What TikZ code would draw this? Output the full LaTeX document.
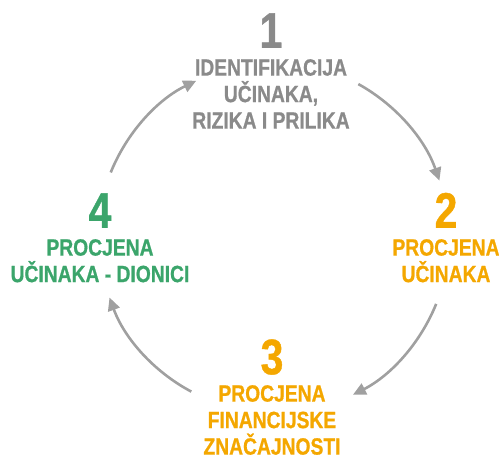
\documentclass[tikz,border=0pt]{standalone}
\usepackage{fontspec}
\newfontfamily\stepfont{Liberation Sans}[UprightFont=* Bold, FakeStretch=0.82, FakeBold=0.8]
\usetikzlibrary{positioning,arrows.meta}

\definecolor{stepgray}{RGB}{138,138,138}
\definecolor{steporange}{RGB}{244,167,0}
\definecolor{stepgreen}{RGB}{59,165,107}
\definecolor{arrowgray}{RGB}{160,160,160}

\tikzset{
  num/.style={font=\stepfont\fontsize{50}{50}\selectfont, inner sep=0pt},
  lbl/.style={font=\stepfont\fontsize{23.5}{26.5}\selectfont, align=center, inner sep=0pt},
  cyc/.style={draw=arrowgray, line width=2.6pt, -{Triangle[length=13pt,width=12pt]}}
}

\begin{document}
\begin{tikzpicture}[x=1pt,y=1pt]
  \useasboundingbox (0,0) rectangle (499,460);

  % Step labels
  \node[lbl, text=stepgray, anchor=north] (l1) at (271,401) {IDENTIFIKACIJA\\UČINAKA,\\RIZIKA I PRILIKA};
  \node[lbl, text=steporange, anchor=north] (l2) at (446,221) {PROCJENA\\UČINAKA};
  \node[lbl, text=steporange, anchor=north] (l3) at (272,75) {PROCJENA\\FINANCIJSKE\\ZNAČAJNOSTI};
  \node[lbl, text=stepgreen, anchor=north] (l4) at (100,221) {PROCJENA\\UČINAKA - DIONICI};

  % Step numbers
  \node[num, text=stepgray, above=11pt of l1] (n1) {1};
  \node[num, text=steporange, above=11pt of l2] (n2) {2};
  \node[num, text=steporange, above=10pt of l3] (n3) {3};
  \node[num, text=stepgreen, above=11pt of l4] (n4) {4};

  % Cycle arrows
  \coordinate (c) at (273,222);
  \coordinate (s1) at ([shift={(c)}]158:175);
  \coordinate (s2) at ([shift={(c)}]61:176);
  \coordinate (s3) at ([shift={(c)}]-22:176);
  \coordinate (s4) at ([shift={(c)}]-118:174);
  \draw[cyc] (s1) arc[start angle=158, end angle=116, radius=175];
  \draw[cyc] (s2) arc[start angle=61, end angle=19, radius=176];
  \draw[cyc] (s3) arc[start angle=-22, end angle=-63, radius=176];
  \draw[cyc] (s4) arc[start angle=-118, end angle=-160, radius=174];
\end{tikzpicture}
\end{document}
